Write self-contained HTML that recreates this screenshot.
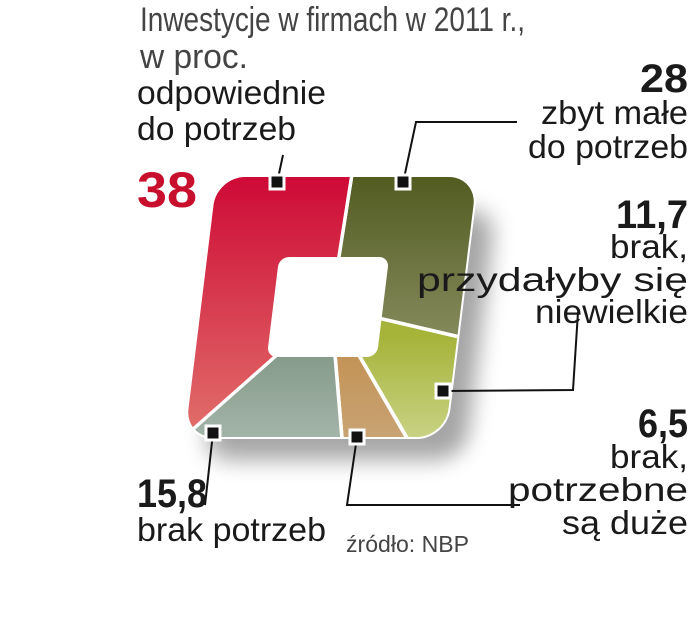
<!DOCTYPE html>
<html><head><meta charset="utf-8">
<style>
html,body{margin:0;padding:0;background:#fff;width:693px;height:640px;overflow:hidden;}
svg{display:block;overflow:hidden;}
.t{font-family:"Liberation Sans Narrow","Liberation Sans",sans-serif;fill:#1a1a1a;}
.b{font-weight:bold;}
.l{fill:#444;}
</style></head>
<body>
<svg id="chart" width="693" height="640" viewBox="0 0 693 640">
<defs>
  <filter id="sh" x="-20%" y="-20%" width="140%" height="140%"><feGaussianBlur stdDeviation="11"/></filter>
  <linearGradient id="g0" gradientUnits="userSpaceOnUse" x1="0" y1="-130" x2="0" y2="50"><stop offset="0" stop-color="#525c21"/><stop offset="1" stop-color="#8b8f63"/></linearGradient>
  <linearGradient id="g1" gradientUnits="userSpaceOnUse" x1="0" y1="30" x2="0" y2="130"><stop offset="0" stop-color="#a6b43a"/><stop offset="1" stop-color="#c8d283"/></linearGradient>
  <linearGradient id="g2" gradientUnits="userSpaceOnUse" x1="0" y1="50" x2="0" y2="130"><stop offset="0" stop-color="#c39357"/><stop offset="1" stop-color="#c8a373"/></linearGradient>
  <linearGradient id="g3" gradientUnits="userSpaceOnUse" x1="0" y1="50" x2="0" y2="130"><stop offset="0" stop-color="#869b8b"/><stop offset="1" stop-color="#a3b4a8"/></linearGradient>
  <linearGradient id="g4" gradientUnits="userSpaceOnUse" x1="0" y1="-130" x2="0" y2="130"><stop offset="0" stop-color="#ce0a36"/><stop offset="1" stop-color="#e1706b"/></linearGradient>
  <clipPath id="clip"><rect x="-130" y="-130" width="260" height="260" rx="28"/></clipPath>
</defs>

<text class="t l" x="140" y="31" font-size="34" textLength="385" lengthAdjust="spacingAndGlyphs">Inwestycje w firmach w 2011 r.,</text>
<text class="t l" x="140" y="68" font-size="34" textLength="108" lengthAdjust="spacingAndGlyphs">w proc.</text>

<g><g transform="matrix(1 0 -0.123 1 350 325)"><rect x="-130" y="-115" width="262" height="250" rx="28" fill="#000" opacity="0.35" filter="url(#sh)"/></g></g>

<g id="pie" transform="matrix(1 0 -0.123 1 331 307)">
  <rect x="-132" y="-132" width="264" height="264" rx="30" fill="#fff"/>
  <g id="slices" clip-path="url(#clip)"></g>
  <rect x="-58" y="-50" width="110" height="100" rx="10" fill="#fff"/>
</g>

<g stroke="#111" stroke-width="2" fill="none">
  <polyline points="277,183 283,155"/>
  <polyline points="403,183 416,122 517,122"/>
  <polyline points="443,391 573,390 578,312"/>
  <polyline points="213,433 205,505"/>
  <polyline points="357,437 347,505 520,505"/>
</g>
<g fill="#111" stroke="#fff" stroke-width="3">
  <rect x="270" y="175" width="14" height="14"/>
  <rect x="396" y="175" width="14" height="14"/>
  <rect x="436" y="384" width="14" height="14"/>
  <rect x="206" y="426" width="14" height="14"/>
  <rect x="350" y="430" width="14" height="14"/>
</g>

<g>
<text class="t" x="137" y="104" font-size="33" textLength="189" lengthAdjust="spacingAndGlyphs">odpowiednie</text>
<text class="t" x="137" y="140" font-size="33" textLength="159" lengthAdjust="spacingAndGlyphs">do potrzeb</text>
<text class="t b" x="137" y="207" font-size="50" style="fill:#c8102e" textLength="60" lengthAdjust="spacingAndGlyphs">38</text>
</g>
<g text-anchor="end">
<text class="t b" x="688" y="92" font-size="40" textLength="48" lengthAdjust="spacingAndGlyphs">28</text>
<text class="t" x="688" y="124" font-size="33" textLength="147" lengthAdjust="spacingAndGlyphs">zbyt małe</text>
<text class="t" x="688" y="158" font-size="33" textLength="160" lengthAdjust="spacingAndGlyphs">do potrzeb</text>
</g>
<g text-anchor="end">
<text class="t b" x="688" y="228" font-size="40" textLength="72" lengthAdjust="spacingAndGlyphs">11,7</text>
<text class="t" x="688" y="258" font-size="33" textLength="78" lengthAdjust="spacingAndGlyphs">brak,</text>
<text class="t" x="688" y="291" font-size="33" textLength="271" lengthAdjust="spacingAndGlyphs">przydałyby się</text>
<text class="t" x="688" y="323" font-size="33" textLength="153" lengthAdjust="spacingAndGlyphs">niewielkie</text>
</g>
<g text-anchor="end">
<text class="t b" x="688" y="437" font-size="40" textLength="50" lengthAdjust="spacingAndGlyphs">6,5</text>
<text class="t" x="688" y="468" font-size="33" textLength="78" lengthAdjust="spacingAndGlyphs">brak,</text>
<text class="t" x="688" y="501" font-size="33" textLength="180" lengthAdjust="spacingAndGlyphs">potrzebne</text>
<text class="t" x="688" y="534" font-size="33" textLength="126" lengthAdjust="spacingAndGlyphs">są duże</text>
</g>
<g>
<text class="t b" x="137" y="507" font-size="40" textLength="70" lengthAdjust="spacingAndGlyphs">15,8</text>
<text class="t" x="137" y="541" font-size="33" textLength="189" lengthAdjust="spacingAndGlyphs">brak potrzeb</text>
</g>
<text class="t l" x="346" y="552" font-size="23" textLength="123" lengthAdjust="spacingAndGlyphs">źródło: NBP</text>
</svg>
<script>
const categories = ["zbyt male do potrzeb", "brak, przydalyby sie niewielkie", "brak, potrzebne sa duze", "brak potrzeb", "odpowiednie do potrzeb"];
const values = [28, 11.7, 6.5, 15.8, 38];
const fills = ["url(#g0)", "url(#g1)", "url(#g2)", "url(#g3)", "url(#g4)"];
(function(){
  const g = document.getElementById('slices');
  const total = values.reduce((a,b)=>a+b,0);
  const R = 400;
  const start = 2;
  let acc = 0;
  const pt = a => { const r = a*Math.PI/180; return (R*Math.sin(r)).toFixed(2)+','+(-R*Math.cos(r)).toFixed(2); };
  values.forEach((v,i)=>{
    const a0 = start + acc/total*360, a1 = start + (acc+v)/total*360;
    acc += v;
    const pts = ['0,0'];
    const n = Math.max(2, Math.ceil((a1-a0)/5));
    for (let k=0;k<=n;k++) pts.push(pt(a0+(a1-a0)*k/n));
    const p = document.createElementNS('http://www.w3.org/2000/svg','polygon');
    p.setAttribute('points', pts.join(' '));
    p.setAttribute('fill', fills[i]);
    p.setAttribute('stroke', '#fff');
    p.setAttribute('stroke-width', '3.5');
    
    
    g.appendChild(p);
  });
})();
</script>
</body></html>
